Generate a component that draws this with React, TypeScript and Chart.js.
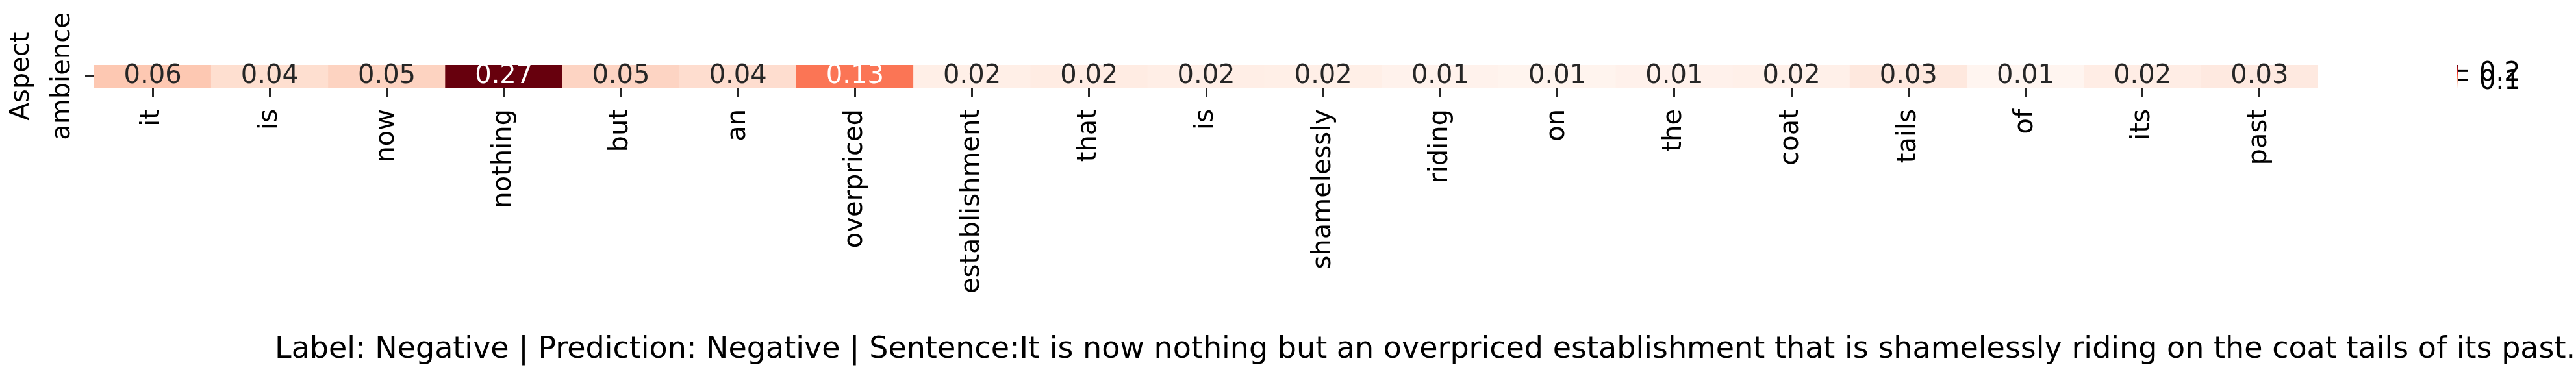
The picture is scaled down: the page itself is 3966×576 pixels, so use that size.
import React, { useEffect, useRef } from 'react';
import { Chart, registerables } from 'chart.js';

Chart.register(...registerables);

// ---- data ----
const words = ['it', 'is', 'now', 'nothing', 'but', 'an', 'overpriced', 'establishment', 'that', 'is', 'shamelessly', 'riding', 'on', 'the', 'coat', 'tails', 'of', 'its', 'past'];
const attention = [0.062, 0.042, 0.052, 0.27, 0.051, 0.043, 0.13, 0.018, 0.022, 0.019, 0.018, 0.012, 0.010, 0.014, 0.016, 0.028, 0.008, 0.020, 0.026];
const aspectLabel = ['Aspect', 'ambience'];
const colorbarTicks = [0.1, 0.2];
const caption = 'Label: Negative | Prediction: Negative | Sentence:It is now nothing but an overpriced establishment that is shamelessly riding on the coat tails of its past.';
const redsStops = ['#fff5f0', '#fee0d2', '#fcbba1', '#fc9272', '#fb6a4a', '#ef3b2c', '#cb181d', '#a50f15', '#67000d'];

const W = 3966;
const H = 576;
const FONT = 'DejaVu Sans';

function hexToRgb(h: string): number[] {
  return [parseInt(h.slice(1, 3), 16), parseInt(h.slice(3, 5), 16), parseInt(h.slice(5, 7), 16)];
}
function reds(t: number): number[] {
  const tt = Math.max(0, Math.min(1, t));
  const n = redsStops.length - 1;
  const p = tt * n;
  const i = Math.min(Math.floor(p), n - 1);
  const f = p - i;
  const a = hexToRgb(redsStops[i]);
  const b = hexToRgb(redsStops[i + 1]);
  return [0, 1, 2].map((k) => a[k] + (b[k] - a[k]) * f);
}
function rgbStr(c: number[]): string {
  return `rgb(${Math.round(c[0])},${Math.round(c[1])},${Math.round(c[2])})`;
}
function luminance(c: number[]): number {
  const lin = c.map((v) => {
    const s = v / 255;
    return s <= 0.03928 ? s / 12.92 : Math.pow((s + 0.055) / 1.055, 2.4);
  });
  return 0.2126 * lin[0] + 0.7152 * lin[1] + 0.0722 * lin[2];
}

const vmin = Math.min(...attention);
const vmax = Math.max(...attention);
const norm = (v: number) => (v - vmin) / (vmax - vmin);
const cellRgb = attention.map((v) => reds(norm(v)));
const cellColors = cellRgb.map(rgbStr);

const annotPlugin = {
  id: 'annot',
  afterDatasetsDraw(chart: any) {
    const ctx = chart.ctx;
    const meta = chart.getDatasetMeta(0);
    const yMid = chart.scales.y.getPixelForValue(0.5);
    ctx.save();
    ctx.font = `40px "${FONT}"`;
    ctx.textAlign = 'center';
    ctx.textBaseline = 'alphabetic';
    meta.data.forEach((bar: any, i: number) => {
      ctx.fillStyle = luminance(cellRgb[i]) > 0.408 ? '#262626' : '#ffffff';
      ctx.fillText(attention[i].toFixed(2), bar.x, yMid + 10.5);
    });
    ctx.restore();
  },
};

const extrasPlugin = {
  id: 'extras',
  afterDraw(chart: any) {
    const ctx = chart.ctx;
    const area = chart.chartArea;
    ctx.save();
    // caption
    ctx.font = `46px "${FONT}"`;
    ctx.fillStyle = '#000';
    ctx.textAlign = 'left';
    ctx.textBaseline = 'alphabetic';
    ctx.fillText(caption, 423, 551);

    // colorbar
    const cbX = area.right + 214;
    const cbW = 2;
    const cbTop = area.top;
    const cbBot = area.bottom;
    const grad = ctx.createLinearGradient(0, cbBot, 0, cbTop);
    redsStops.forEach((c, i) => grad.addColorStop(i / (redsStops.length - 1), c));
    ctx.fillStyle = grad;
    ctx.fillRect(cbX, cbTop, cbW, cbBot - cbTop);
    ctx.strokeStyle = '#000';
    ctx.lineWidth = 3;
    ctx.font = `40px "${FONT}"`;
    ctx.fillStyle = '#000';
    colorbarTicks.forEach((t) => {
      const y = cbBot - norm(t) * (cbBot - cbTop);
      ctx.beginPath();
      ctx.moveTo(cbX + cbW, y);
      ctx.lineTo(cbX + cbW + 14, y);
      ctx.stroke();
      ctx.fillText(t.toFixed(1), cbX + 34, y + 14.5);
    });
    ctx.restore();
  },
};

export default function App() {
  const ref = useRef<HTMLCanvasElement | null>(null);
  useEffect(() => {
    const canvas = ref.current;
    if (!canvas) return;
    const chart = new Chart(canvas, {
      type: 'bar',
      data: {
        labels: words,
        datasets: [
          {
            data: words.map(() => [0, 1]) as any,
            backgroundColor: cellColors,
            borderWidth: 0,
            barPercentage: 1,
            categoryPercentage: 1,
          },
        ],
      },
      options: {
        responsive: false,
        animation: false,
        devicePixelRatio: 1,
        layout: { padding: { left: 0, top: 100, right: 397, bottom: 0 } },
        plugins: {
          legend: { display: false },
          tooltip: { enabled: false },
          title: { display: false },
        },
        scales: {
          x: {
            type: 'category',
            offset: true,
            grid: {
              offset: false,
              drawOnChartArea: false,
              drawTicks: true,
              tickLength: 14,
              tickWidth: 3,
              tickColor: '#262626',
            },
            border: { display: false },
            ticks: {
              autoSkip: false,
              minRotation: 90,
              maxRotation: 90,
              padding: 19,
              color: '#000',
              font: { family: FONT, size: 40 },
            },
            afterFit: (s: any) => {
              s.height = H - 135;
            },
          },
          y: {
            type: 'linear',
            min: 0,
            max: 1,
            grid: {
              drawOnChartArea: false,
              drawTicks: true,
              tickLength: 14,
              tickWidth: 3,
              tickColor: '#262626',
            },
            border: { display: false },
            afterBuildTicks: (s: any) => {
              s.ticks = [{ value: 0.5 }];
            },
            ticks: { callback: () => '', padding: 0 },
            title: {
              display: true,
              text: aspectLabel,
              color: '#000',
              font: { family: FONT, size: 40, lineHeight: '63px' },
              padding: { top: 2, bottom: 0 },
            },
            afterFit: (s: any) => {
              s.width = 145;
            },
          },
        },
      } as any,
      plugins: [annotPlugin, extrasPlugin],
    });
    return () => chart.destroy();
  }, []);
  return (
    <div style={{ position: 'fixed', left: 0, top: 0, width: W, height: H, background: '#fff' }}>
      <canvas ref={ref} width={W} height={H} style={{ width: W, height: H, display: 'block' }} />
    </div>
  );
}
